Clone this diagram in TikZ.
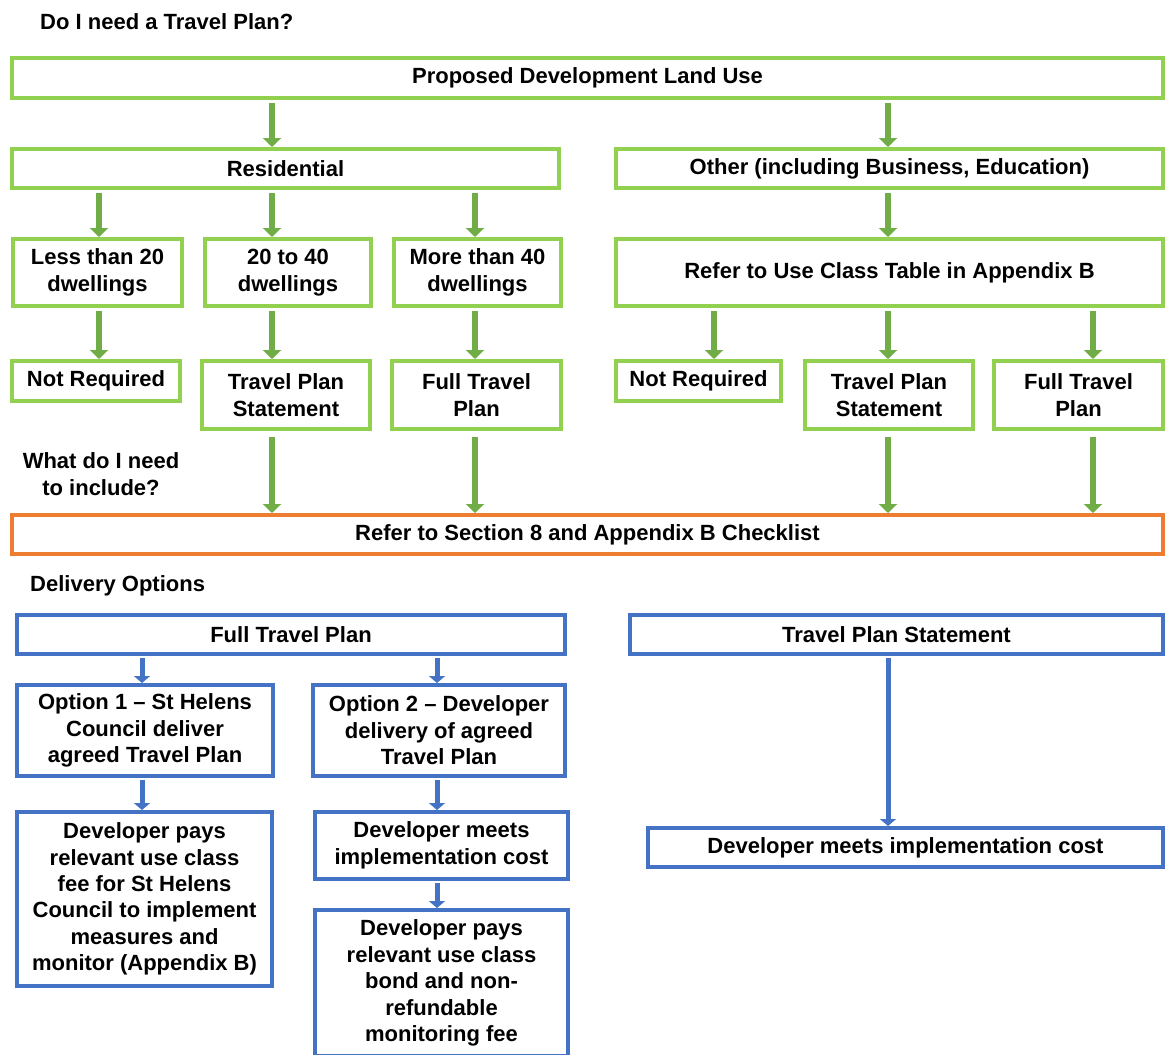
\documentclass[tikz,border=0pt]{standalone}
\usepackage{fontspec}
\setmainfont{Liberation Sans}
\usetikzlibrary{arrows.meta}

\definecolor{boxgreen}{HTML}{92D050}
\definecolor{arrgreen}{HTML}{70AD47}
\definecolor{boxorange}{HTML}{ED7D31}
\definecolor{boxblue}{HTML}{4472C4}

\tikzset{
  box/.style={draw, line width=4pt, rectangle, align=center, inner sep=2pt,
    font=\bfseries\fontsize{22}{26.4}\selectfont},
  gbox/.style={box, draw=boxgreen},
  obox/.style={box, draw=boxorange},
  bluebox/.style={box, draw=boxblue},
  wh/.style 2 args={minimum width=#1pt, minimum height=#2pt},
  garrow/.style={arrgreen, line width=6pt, shorten <=3pt, -{Triangle[width=18pt,length=9pt]}},
  barrow/.style={boxblue, line width=5pt, shorten <=2pt, -{Triangle[width=16pt,length=7pt]}},
  heading/.style={font=\bfseries\fontsize{22}{26.4}\selectfont, inner sep=0pt},
}

\begin{document}
\begin{tikzpicture}[x=1pt, y=-1pt]
  \clip (0,0) rectangle (1168,1055);
  \fill[white] (0,0) rectangle (1168,1055);

  % headings
  \node[heading, anchor=west] (qneed) at (40,22) {Do I need a Travel Plan?};
  \node[heading, align=center] (qinc) at (101,474) {What do I need\\to include?};
  \node[heading, anchor=west] (qdel) at (30,586) {Delivery Options};

  % do I need a travel plan
  \node[gbox, wh={1151}{40}] (land)  at (587.5,78)   {Proposed Development Land Use};
  \node[gbox, wh={547}{39}]  (res)   at (285.5,168.5) {Residential};
  \node[gbox, wh={547}{39}]  (oth)   at (889.5,168.5) {Other (including Business, Education)};
  \node[gbox, wh={169}{67}]  (lt20)  at (97.5,272.5)  {Less than 20\\dwellings};
  \node[gbox, wh={166}{67}]  (mid40) at (288,272.5)   {20 to 40\\dwellings};
  \node[gbox, wh={167}{67}]  (gt40)  at (477.5,272.5) {More than 40\\dwellings};
  \node[gbox, wh={547}{67}]  (refer) at (889.5,272.5) {Refer to Use Class Table in Appendix B};
  \node[gbox, wh={168}{40}]  (nreqa) at (96,381)      {Not Required};
  \node[gbox, wh={168}{68}]  (tpsa)  at (286,395)     {Travel Plan\\Statement};
  \node[gbox, wh={169}{68}]  (ftpa)  at (476.5,395)   {Full Travel\\Plan};
  \node[gbox, wh={165}{40}]  (nreqb) at (698.5,381)   {Not Required};
  \node[gbox, wh={168}{68}]  (tpsb)  at (889,395)     {Travel Plan\\Statement};
  \node[gbox, wh={169}{68}]  (ftpb)  at (1078.5,395)  {Full Travel\\Plan};

  % what do I need to include
  \node[obox, wh={1151}{39}] (check) at (587.5,534.5) {Refer to Section 8 and Appendix B Checklist};

  % delivery options
  \node[bluebox, wh={548}{39}]  (full)   at (291,634.5)   {Full Travel Plan};
  \node[bluebox, wh={533}{39}]  (stmt)   at (896.5,634.5) {Travel Plan Statement};
  \node[bluebox, wh={256}{91}]  (opt1)   at (145,730.5)   {Option 1 – St Helens\\Council deliver\\agreed Travel Plan};
  \node[bluebox, wh={252}{91}]  (opt2)   at (439,730.5)   {Option 2 – Developer\\delivery of agreed\\Travel Plan};
  \node[bluebox, wh={255}{174}] (payfee) at (144.5,899)   {Developer pays\\relevant use class\\fee for St Helens\\Council to implement\\measures and\\monitor (Appendix B)};
  \node[bluebox, wh={253}{67}]  (meeta)  at (441.5,845.5) {Developer meets\\implementation cost};
  \node[bluebox, wh={515}{39}]  (meetb)  at (905.5,847.5) {Developer meets implementation cost};
  \node[bluebox, wh={253}{146}] (paybond) at (441.5,983)  {Developer pays\\relevant use class\\bond and non-\\refundable\\monitoring fee};

  % arrow columns
  \coordinate (ca) at (99,0);
  \coordinate (cb) at (272,0);
  \coordinate (cc) at (475,0);
  \coordinate (cd) at (714,0);
  \coordinate (ce) at (888,0);
  \coordinate (cf) at (1093,0);
  \coordinate (cg) at (142,0);
  \coordinate (ch) at (437,0);

  \draw[garrow] (land.south -| cb) -- (res.north -| cb);
  \draw[garrow] (land.south -| ce) -- (oth.north -| ce);
  \draw[garrow] (res.south -| ca) -- (lt20.north -| ca);
  \draw[garrow] (res.south -| cb) -- (mid40.north -| cb);
  \draw[garrow] (res.south -| cc) -- (gt40.north -| cc);
  \draw[garrow] (oth.south -| ce) -- (refer.north -| ce);
  \draw[garrow] (lt20.south -| ca) -- (nreqa.north -| ca);
  \draw[garrow] (mid40.south -| cb) -- (tpsa.north -| cb);
  \draw[garrow] (gt40.south -| cc) -- (ftpa.north -| cc);
  \draw[garrow] (refer.south -| cd) -- (nreqb.north -| cd);
  \draw[garrow] (refer.south -| ce) -- (tpsb.north -| ce);
  \draw[garrow] (refer.south -| cf) -- (ftpb.north -| cf);
  \draw[garrow, shorten <=6pt] (tpsa.south -| cb) -- (check.north -| cb);
  \draw[garrow, shorten <=6pt] (ftpa.south -| cc) -- (check.north -| cc);
  \draw[garrow, shorten <=6pt] (tpsb.south -| ce) -- (check.north -| ce);
  \draw[garrow, shorten <=6pt] (ftpb.south -| cf) -- (check.north -| cf);

  \draw[barrow] (full.south -| cg) -- (opt1.north -| cg);
  \draw[barrow] (full.south -| ch) -- (opt2.north -| ch);
  \draw[barrow] (stmt.south -| ce) -- (meetb.north -| ce);
  \draw[barrow] (opt1.south -| cg) -- (payfee.north -| cg);
  \draw[barrow] (opt2.south -| ch) -- (meeta.north -| ch);
  \draw[barrow] (meeta.south -| ch) -- (paybond.north -| ch);
\end{tikzpicture}
\end{document}
